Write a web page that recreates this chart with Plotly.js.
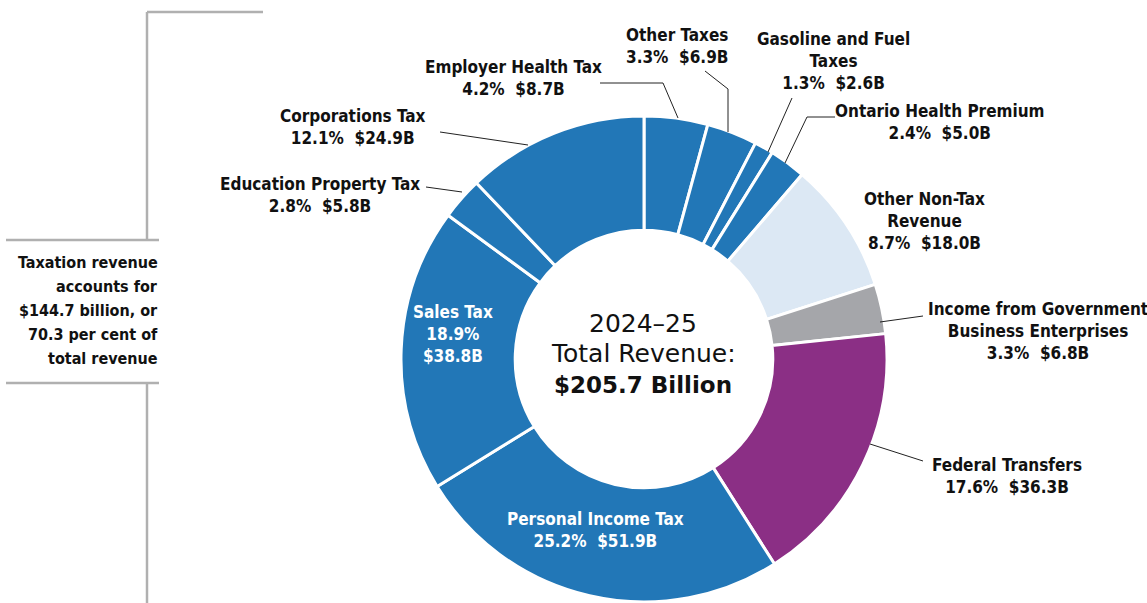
<!DOCTYPE html>
<html>
<head>
<meta charset="utf-8">
<script src="https://cdn.plot.ly/plotly-3.0.1.min.js"></script>
<style>html,body{margin:0;padding:0;background:#fff;}#chart{width:1147px;height:603px;}</style>
</head>
<body>
<div id="chart"></div>
<script>
// ---- data ----
const labels = ["Employer Health Tax","Other Taxes","Gasoline and Fuel Taxes","Ontario Health Premium","Other Non-Tax Revenue","Income from Government Business Enterprises","Federal Transfers","Personal Income Tax","Sales Tax","Education Property Tax","Corporations Tax"];
const displayLabels = ["Employer Health Tax","Other Taxes","Gasoline and Fuel<br>Taxes","Ontario Health Premium","Other Non-Tax<br>Revenue","Income from Government<br>Business Enterprises","Federal Transfers","Personal Income Tax","Sales Tax","Education Property Tax","Corporations Tax"];
const valuesB = [8.7, 6.9, 2.6, 5.0, 18.0, 6.8, 36.3, 51.9, 38.8, 5.8, 24.9];
const percents = [4.2, 3.3, 1.3, 2.4, 8.7, 3.3, 17.6, 25.2, 18.9, 2.8, 12.1];
const colors = ["#2277b7","#2277b7","#2277b7","#2277b7","#dce8f4","#a5a6aa","#8b2f85","#2277b7","#2277b7","#2277b7","#2277b7"];
const centerLines = ["2024–25","Total Revenue:","<b>$205.7 Billion</b>"];
const sideNote = ["Taxation revenue","accounts for","$144.7 billion, or","70.3 per cent of","total revenue"];

// ---- layout helpers (pixel -> paper) ----
const W = 1147, H = 603;
const px = x => x / W;
const py = y => 1 - y / H;
const NARROW = "Liberation Sans Narrow, Arial Narrow, DejaVu Sans Condensed, sans-serif";
const sp = "\u00a0\u00a0";

// label placement: [x center, y of block center]
const labelPos = [
  [513, 78], [677, 46], [833, 61], [940, 122], [924, 221], [1038, 331],
  [1007, 476], [595, 530], [453, 334], [320, 195], [353, 127]
];

const annotations = [];
for (let i = 0; i < labels.length; i++) {
  let txt;
  if (labels[i] === "Sales Tax") {
    txt = displayLabels[i] + "<br>" + percents[i].toFixed(1) + "%<br>$" + valuesB[i].toFixed(1) + "B";
  } else {
    txt = displayLabels[i] + "<br>" + percents[i].toFixed(1) + "%" + sp + "$" + valuesB[i].toFixed(1) + "B";
  }
  const white = (labels[i] === "Sales Tax" || labels[i] === "Personal Income Tax");
  annotations.push({
    xref: "paper", yref: "paper", x: px(labelPos[i][0]), y: py(labelPos[i][1]),
    xanchor: "center", yanchor: "middle", showarrow: false, align: "center",
    text: "<b>" + txt + "</b>",
    font: {family: NARROW, size: 17, color: white ? "#ffffff" : "#111111"}
  });
}
// center text, one line each
const centerY = [323, 353, 385];
const centerSize = [25, 25, 23];
centerLines.forEach((t, k) => annotations.push({
  xref: "paper", yref: "paper", x: px(643), y: py(centerY[k]), xanchor: "center", yanchor: "middle",
  showarrow: false, text: t,
  font: {family: "DejaVu Sans, sans-serif", size: centerSize[k], color: "#111"}
}));
// side note, one line each
sideNote.forEach((t, k) => annotations.push({
  xref: "paper", yref: "paper", x: px(160), y: py(262 + 24 * k), xanchor: "right", yanchor: "middle",
  showarrow: false, align: "right", text: "<b>" + t + "</b>",
  font: {family: NARROW, size: 16, color: "#111"}
}));

// leader lines (pixel paths)
const leaders = [
  [[600,83],[663,83],[678,118]],
  [[705,71],[728,89],[728,132]],
  [[792,98],[768,152]],
  [[835,117],[807,117],[785,163]],
  [[923,316],[880,322]],
  [[923,461],[870,444]],
  [[426,187],[462,192]],
  [[440,132],[528,145]]
];
const shapes = [];
leaders.forEach(pts => {
  for (let k = 0; k < pts.length - 1; k++) {
    shapes.push({type: "line", xref: "paper", yref: "paper",
      x0: px(pts[k][0]), y0: py(pts[k][1]), x1: px(pts[k+1][0]), y1: py(pts[k+1][1]),
      line: {color: "#222", width: 1}});
  }
});
// bracket lines
const bracket = [
  [[147,12],[263,12]],
  [[147,12],[147,240]],
  [[6,240],[159,240]],
  [[6,383],[159,383]],
  [[147,383],[147,603]]
];
bracket.forEach(p => shapes.push({type: "line", xref: "paper", yref: "paper",
  x0: px(p[0][0]), y0: py(p[0][1]), x1: px(p[1][0]), y1: py(p[1][1]),
  line: {color: "#b0b0b0", width: 2.5}}));

const cx = 644, cy = 359, R = 243;
const trace = {
  type: "pie", labels: labels, values: valuesB, sort: false, direction: "clockwise", rotation: 0,
  hole: 0.53, textinfo: "none", hoverinfo: "label+percent+value",
  marker: {colors: colors, line: {color: "#ffffff", width: 3}},
  domain: {x: [px(cx - R), px(cx + R)], y: [py(cy + R), py(cy - R)]},
  showlegend: false
};

const layout = {
  width: W, height: H, margin: {l: 0, r: 0, t: 0, b: 0},
  paper_bgcolor: "#ffffff", plot_bgcolor: "#ffffff",
  annotations: annotations, shapes: shapes, showlegend: false
};
Plotly.newPlot("chart", [trace], layout, {displayModeBar: false, staticPlot: true});
</script>
</body>
</html>
